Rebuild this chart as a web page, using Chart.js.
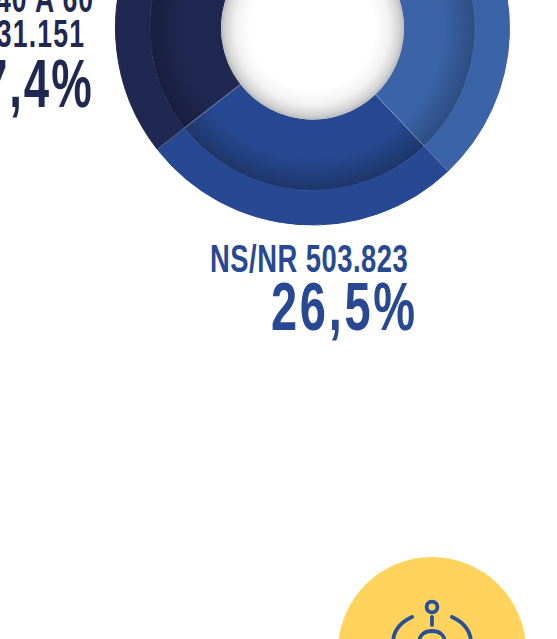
<!DOCTYPE html>
<html><head><meta charset="utf-8">
<script src="https://cdn.jsdelivr.net/npm/chart.js@4"></script>
<style>
html,body{margin:0;padding:0;background:#fff;overflow:hidden;width:557px;height:639px}
#wrap{position:absolute;left:115px;top:-170px;width:395px;height:396px}
.t{position:absolute;white-space:nowrap;font-family:"Liberation Sans Narrow","Liberation Sans",sans-serif;font-weight:700;transform-origin:100% 100%;line-height:1}
svg{position:absolute;left:0;top:0}
</style></head><body>
<svg width="557" height="639">
<circle cx="432" cy="651" r="94" fill="#ffd35c"/>
<g fill="none" stroke="#27509a" stroke-width="3.8" stroke-linecap="round">
<circle cx="432" cy="607" r="5.4"/>
<path d="M432 617V625"/>
<path d="M412 617C401 622 394 630 393 641"/>
<path d="M452 617C463 622 470 630 471 641"/>
<path d="M419 642C419 635 425 631 432 631C439 631 445 635 445 642"/>
</g></svg>
<div id="wrap"><canvas id="c" width="395" height="396"></canvas></div>
<script>
const categories=["Otros","NS/NR","40 A 60"];
const values=[1066245,503823,331151];
const colors=["#3b63a8","#274892","#1f2850"];
const rimColors=["#2e4d80","#1e3668","#181e3f"];
const textRows=[
 {s:"40 A 60",c:"#1f2850",right:93,base:12,size:38,sx:.70,ls:1.4},
 {s:"331.151",c:"#1f2850",right:84,base:47,size:38,sx:.70,ls:1.7},
 {s:"17,4%",c:"#1f2850",right:92,base:107,size:69,sx:.66,ls:3},
 {s:"NS/NR 503.823",c:"#274892",right:408,base:272,size:38,sx:.72,ls:.7},
 {s:"26,5%",c:"#274892",right:415,base:330,size:68,sx:.69,ls:4}
];
textRows.forEach(r=>{
 const d=document.createElement('div');d.className='t';d.textContent=r.s;
 d.style.color=r.c;d.style.fontSize=r.size+'px';d.style.letterSpacing=r.ls+'px';
 d.style.right=(557-r.right-r.ls*r.sx)+'px';
 d.style.top=(r.base-r.size*0.8465)+'px';
 d.style.transform='scaleX('+r.sx+')';
 document.body.appendChild(d);
});
const rimShade=c=>{
 const i=c.dataIndex;
 const m=c.chart.getDatasetMeta(1).data[i];
 if(!m||!m.outerRadius) return colors[i];
 const g=c.chart.ctx.createRadialGradient(m.x,m.y,m.innerRadius,m.x,m.y,m.outerRadius);
 g.addColorStop(0,colors[i]);g.addColorStop(.55,colors[i]);g.addColorStop(1,rimColors[i]);
 return g;
};
const decor={id:'decor',
 afterDatasetsDraw(ch){
  const o=ch.getDatasetMeta(0).data,n=ch.getDatasetMeta(1).data,x=ch.ctx;
  const a=n[0];if(!a)return;
  x.save();
  const R=a.innerRadius,g=x.createRadialGradient(a.x,a.y,R*.68,a.x,a.y,R);
  g.addColorStop(0,'rgba(255,255,255,1)');
  g.addColorStop(.5,'rgba(242,242,242,1)');
  g.addColorStop(.85,'rgba(212,212,212,1)');
  g.addColorStop(1,'rgba(185,185,185,1)');
  x.fillStyle=g;x.beginPath();x.arc(a.x,a.y,R,0,Math.PI*2);x.fill();
  x.strokeStyle='rgba(255,255,255,.35)';x.lineWidth=.8;
  o.forEach((s,i)=>{
   const t=n[i].startAngle;
   x.beginPath();x.moveTo(a.x+R*Math.cos(t),a.y+R*Math.sin(t));
   x.lineTo(a.x+s.outerRadius*Math.cos(t),a.y+s.outerRadius*Math.sin(t));x.stroke();
  });
  x.restore();
 }};
const chart=new Chart(document.getElementById('c'),{
 type:'doughnut',
 data:{labels:categories,datasets:[
  {data:values,backgroundColor:colors,borderColor:colors,borderWidth:1,weight:34.5},
  {data:values,backgroundColor:rimShade,borderWidth:0,weight:71.4}
 ]},
 options:{responsive:false,animation:false,cutout:'46.4%',rotation:-65.3,
  layout:{padding:0},
  plugins:{legend:{display:false},tooltip:{enabled:false}}},
 plugins:[decor]
});
chart.update();
</script>
</body></html>
